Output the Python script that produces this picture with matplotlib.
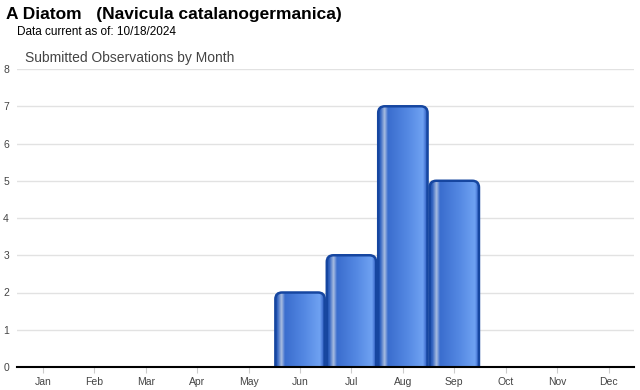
import matplotlib
matplotlib.use("Agg")
import matplotlib.pyplot as plt
import numpy as np
from matplotlib.colors import LinearSegmentedColormap
from matplotlib.patches import FancyBboxPatch

plt.rcParams["font.family"] = ["Liberation Sans", "DejaVu Sans"]

months = ["Jan", "Feb", "Mar", "Apr", "May", "Jun",
          "Jul", "Aug", "Sep", "Oct", "Nov", "Dec"]
counts = [0, 0, 0, 0, 0, 2, 3, 7, 5, 0, 0, 0]
y_ticks = [0, 1, 2, 3, 4, 5, 6, 7, 8]

fig = plt.figure(figsize=(6.4, 3.9), dpi=100)
ax = fig.add_axes([0.027, 0.059, 0.964, 0.764])

x = np.arange(len(months))
width = 0.96

# horizontal shading across each bar
bar_cmap = LinearSegmentedColormap.from_list(
    "bar",
    [(0.0, "#1d4faa"), (0.05, "#3566c2"), (0.13, "#a9bde0"),
     (0.2, "#3a6dce"), (0.6, "#5589e3"), (0.9, "#6fa2f2"),
     (0.96, "#3f6fcf"), (1.0, "#1d4faa")])
grad = np.linspace(0, 1, 256).reshape(1, -1)

bars = ax.bar(x, counts, width=width, color="none", edgecolor="none")
for b, v in zip(bars, counts):
    if v <= 0:
        continue
    x0, w = b.get_x(), b.get_width()
    patch = FancyBboxPatch((x0, -0.3), w, v + 0.3,
                           boxstyle="round,pad=0,rounding_size=0.13",
                           mutation_aspect=1.38,
                           facecolor="none", edgecolor="#1646a0", lw=1.8,
                           zorder=3)
    ax.add_patch(patch)
    im = ax.imshow(grad, cmap=bar_cmap, aspect="auto",
                   extent=(x0, x0 + w, 0, v), zorder=2)
    im.set_clip_path(patch)

ax.set_xlim(-0.5, len(months) - 0.5)
ax.set_ylim(0, 8)
ax.set_xticks(x)
ax.set_xticklabels(months, fontsize=7.5, color="#444444")
ax.set_yticks(y_ticks)
ax.set_yticklabels([str(t) for t in y_ticks], fontsize=7.5, color="#444444")
ax.tick_params(axis="y", length=0, pad=6)
ax.tick_params(axis="x", length=4, color="#cccccc", pad=3)
ax.yaxis.grid(True, color="#e2e2e2", lw=1)
ax.set_axisbelow(True)
for s in ["top", "right", "left"]:
    ax.spines[s].set_visible(False)
ax.spines["bottom"].set_color("black")
ax.spines["bottom"].set_linewidth(1.5)
ax.spines["bottom"].set_zorder(5)

fig.text(6 / 640, 1 - 15 / 390, "A Diatom   (Navicula catalanogermanica)",
         fontsize=12.5, fontweight="bold", va="center", ha="left")
fig.text(17 / 640, 1 - 32 / 390, "Data current as of: 10/18/2024",
         fontsize=8.5, va="center", ha="left")
fig.text(25 / 640, 1 - 58 / 390, "Submitted Observations by Month",
         fontsize=10, color="#444444", va="center", ha="left")

fig.savefig("out.png", dpi=100)
